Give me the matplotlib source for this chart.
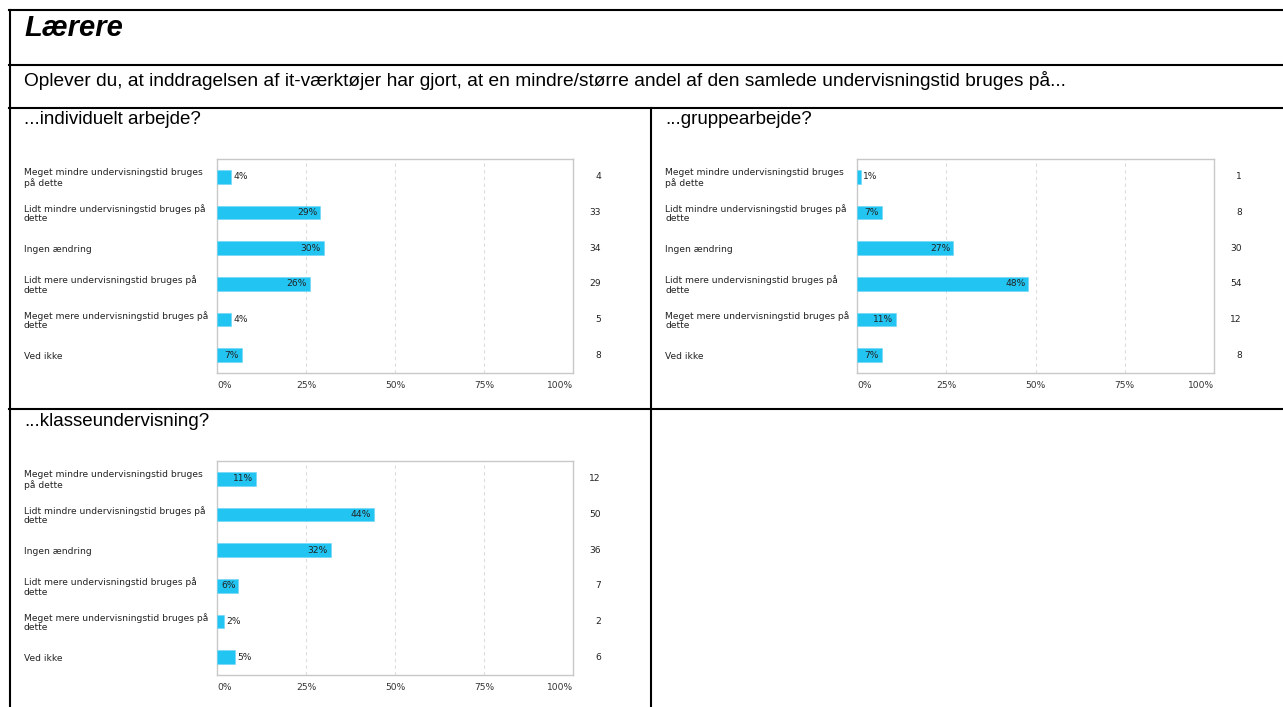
import matplotlib.pyplot as plt
from matplotlib.transforms import blended_transform_factory

W, H = 1283, 707

kategorier = [
    'Meget mindre undervisningstid bruges\npå dette',
    'Lidt mindre undervisningstid bruges på\ndette',
    'Ingen ændring',
    'Lidt mere undervisningstid bruges på\ndette',
    'Meget mere undervisningstid bruges på\ndette',
    'Ved ikke',
]

individuelt_pct = [4, 29, 30, 26, 4, 7]
individuelt_antal = [4, 33, 34, 29, 5, 8]

gruppe_pct = [1, 7, 27, 48, 11, 7]
gruppe_antal = [1, 8, 30, 54, 12, 8]

klasse_pct = [11, 44, 32, 6, 2, 5]
klasse_antal = [12, 50, 36, 7, 2, 6]

x_ticks = [0, 25, 50, 75, 100]
x_labels = ['0%', '25%', '50%', '75%', '100%']

BAR_COLOR = '#22c4f2'
SMALL = 6.6
ARIAL = 'Liberation Sans'


def px_x(x):
    return x / W


def px_y(y):
    return 1 - y / H


def tegn_panel(fig, titel, tx, ty, left, top, right, bottom, label_x, count_x, pct, antal):
    fig.text(px_x(tx), px_y(ty), titel, fontsize=13.5, family=ARIAL, va='center', ha='left')

    ax = fig.add_axes([px_x(left), px_y(bottom), (right - left) / W, (bottom - top) / H])
    y = list(range(len(kategorier)))
    ax.barh(y, pct, height=0.39, color=BAR_COLOR, edgecolor='#6fd6f5', linewidth=0.4, zorder=3)
    ax.set_xlim(0, 100)
    ax.set_ylim(len(kategorier) - 0.5, -0.5)
    ax.set_yticks([])
    ax.set_xticks(x_ticks)
    ax.set_xticklabels(x_labels, fontsize=SMALL, color='#333333')
    labels = ax.get_xticklabels()
    labels[0].set_ha('left')
    labels[-1].set_ha('right')
    ax.tick_params(axis='x', length=0, pad=5.5)
    for spine in ax.spines.values():
        spine.set_color('#c8c8c8')
        spine.set_linewidth(1.0)
    for g in x_ticks[1:-1]:
        ax.axvline(g, color='#dcdcdc', linestyle=(0, (3, 3)), linewidth=0.8, zorder=1)

    for i, v in enumerate(pct):
        if v >= 6:
            ax.text(v - 0.8, i, f'{v}%', fontsize=SMALL, va='center', ha='right', color='#222222', zorder=4)
        else:
            ax.text(v + 0.6, i, f'{v}%', fontsize=SMALL, va='center', ha='left', color='#222222', zorder=4)

    trans = blended_transform_factory(fig.transFigure, ax.transData)
    for i, kat in enumerate(kategorier):
        ax.text(px_x(label_x), i + 0.03, kat, transform=trans, fontsize=SMALL, va='center', ha='left',
                color='#222222', linespacing=1.05, clip_on=False)
        ax.text(px_x(count_x), i, str(antal[i]), transform=trans, fontsize=SMALL, va='center',
                ha='right', color='#222222', clip_on=False)
    return ax


fig = plt.figure(figsize=(W / 100, H / 100), dpi=100)

# ramme / tabel-linjer
lw = 1.5
def hline(y, x0, x1):
    fig.add_artist(plt.Line2D([px_x(x0), px_x(x1)], [px_y(y), px_y(y)], color='black', lw=lw))

def vline(x, y0, y1):
    fig.add_artist(plt.Line2D([px_x(x), px_x(x)], [px_y(y0), px_y(y1)], color='black', lw=lw))

hline(10, 9, W)
hline(65, 9, W)
hline(108, 9, W)
hline(409, 9, W)
vline(9.5, 10, H)
vline(651, 108, H)

fig.text(px_x(24), px_y(28), 'Lærere', fontsize=21, family=ARIAL, fontweight='bold',
         fontstyle='italic', va='center', ha='left')
fig.text(px_x(24), px_y(80),
         'Oplever du, at inddragelsen af it-værktøjer har gjort, at en mindre/større andel af den samlede undervisningstid bruges på...',
         fontsize=13.8, family=ARIAL, va='center', ha='left')

tegn_panel(fig, '...individuelt arbejde?', 24, 119, 217, 159, 573, 373, 24, 601,
           individuelt_pct, individuelt_antal)
tegn_panel(fig, '...gruppearbejde?', 665, 119, 857, 159, 1214, 373, 665, 1242,
           gruppe_pct, gruppe_antal)
tegn_panel(fig, '...klasseundervisning?', 24, 421, 217, 461, 573, 675, 24, 601,
           klasse_pct, klasse_antal)

plt.savefig('out.png', dpi=100)
